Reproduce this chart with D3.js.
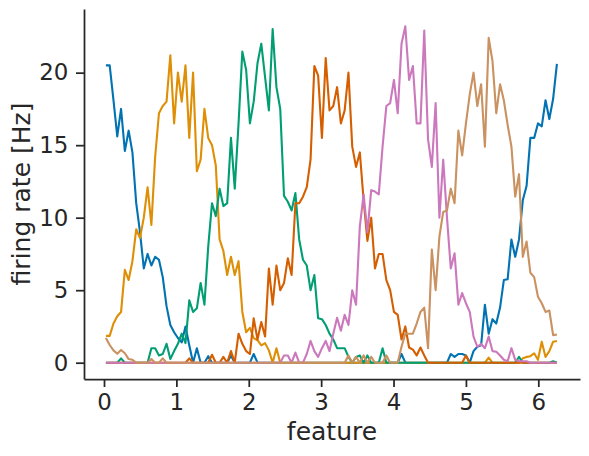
<!DOCTYPE html>
<html>
<head>
<meta charset="utf-8">
<script src="https://cdn.jsdelivr.net/npm/d3@7"></script>
<style>
  body { margin: 0; background: #fff; }
  text { font-family: "DejaVu Sans", sans-serif; fill: #262626; }
</style>
</head>
<body>
<script>
// tuning curves of 6 neurons, 120 feature bins over [0, 2pi]
var nBins = 120;
var colors = ["#0173b2", "#de8f05", "#029e73", "#d55e00", "#cc78bc", "#ca9161"];
var xTicks = [0, 1, 2, 3, 4, 5, 6],
    yTicks = [0, 5, 10, 15, 20];

var neuron0 = [
  20.5, 20.5, 18.1, 15.6, 17.5, 14.6, 16.0, 14.5, 11.0, 9.0,
  6.5, 7.5, 6.7, 7.3, 7.1, 5.9, 3.9, 2.6, 2.1, 1.7,
  1.4, 2.5, 1.2, 0, 1.0, 0, 0, 0.45, 0, 0,
  0, 0, 0, 0.5, 0, 0, 0, 0, 0, 0.6,
  0, 0, 0, 0, 0, 0, 0, 0, 0, 0,
  0, 0, 0, 0, 0, 0, 0, 0, 0, 0,
  0, 0, 0, 0, 0, 0, 0, 0, 0, 0,
  0, 0, 0, 0, 0, 0, 0, 0, 0.6, 0,
  0, 0, 0, 0, 0, 0, 0, 0, 0, 0,
  0, 0.6, 0.4, 0.6, 0.6, 0.5, 0, 0.8, 1.1, 1.2,
  4.0, 2.0, 3.0, 2.7, 3.8, 5.7, 5.75, 8.5, 7.3, 8.5,
  11.2, 12.2, 15.5, 15.5, 16.5, 16.3, 18.1, 16.8, 18.2, 20.6
];
var neuron1 = [
  1.85, 1.85, 2.7, 3.2, 3.5, 6.4, 5.7, 7.0, 9.2, 8.6,
  10.0, 12.1, 9.5, 14.2, 17.2, 17.7, 18.0, 21.2, 16.5, 20.0,
  18.0, 20.5, 15.5, 20.0, 13.2, 14.0, 17.5, 15.5, 15.0, 13.6,
  8.5, 7.7, 6.05, 7.3, 6.05, 7.0, 3.5, 2.1, 2.4, 1.7,
  1.55, 1.2, 1.35, 0.85, 0, 1.0, 0, 0, 0, 0,
  0, 0, 0, 0, 0, 0, 0, 0, 0, 0,
  0, 0, 0, 0, 0, 0, 0, 0, 0, 0,
  0, 0, 0, 0, 0, 0, 0, 0, 0, 0,
  0, 0, 0, 0, 0, 0, 0, 0, 0, 0,
  0, 0, 0, 0, 0, 0, 0, 0, 0, 0,
  0, 0.35, 0, 0, 0, 0, 0, 0, 0, 0,
  0.3, 0.4, 0.45, 0.65, 0.2, 1.45, 0.4, 0.8, 1.45, 1.5
];
var neuron2 = [
  0, 0, 0, 0, 0.3, 0, 0, 0, 0, 0,
  0, 0, 1.0, 1.0, 0.5, 0.6, 1.3, 0.25, 0.8, 1.3,
  2.0, 1.35, 4.3, 3.5, 3.75, 5.5, 4.0, 8.0, 11.0, 10.1,
  12.0, 10.8, 11.0, 15.5, 12.0, 16.5, 21.45, 20.2, 16.5, 18.0,
  20.65, 22.0, 19.7, 17.4, 23.0, 19.0, 17.5, 11.5, 11.1, 10.5,
  11.7, 8.5, 7.1, 6.7, 5.0, 6.05, 3.06, 3.0, 2.6, 2.0,
  1.6, 1.0, 1.0, 1.0, 0.4, 0, 0.4, 0.5, 0, 0.5,
  0, 0, 0, 1.0, 0, 0, 0, 0, 0, 0,
  0, 0, 0, 0, 0, 0, 0, 0, 0, 0,
  0, 0, 0, 0, 0, 0, 0, 0, 0, 0,
  0, 0, 0, 0, 0, 0, 0, 0, 0, 0.4,
  0, 0, 0, 0, 0, 0, 0, 0, 0.1, 0
];
var neuron3 = [
  0, 0, 0, 0, 0, 0, 0, 0, 0, 0,
  0, 0, 0, 0, 0, 0, 0, 0, 0, 0,
  0, 0, 0.3, 0, 0, 0, 0, 0, 0.55, 0,
  0, 0.4, 0, 0.8, 0, 2.0, 1.3, 0.8, 0.6, 3.06,
  1.6, 2.8, 1.8, 6.5, 4.0, 6.7, 5.0, 5.5, 7.2, 6.05,
  11.0, 11.0, 11.45, 12.1, 14.0, 20.46, 19.8, 15.5, 21.0, 17.4,
  17.7, 19.0, 16.5, 17.4, 20.0, 14.9, 13.5, 14.5, 11.2, 8.4,
  10.0, 6.5, 7.5, 7.5, 5.7, 5.0, 3.5, 3.3, 1.6, 2.5,
  1.05, 0.9, 0.5, 1.05, 0.5, 0, 0, 0, 0, 0,
  0, 0, 0, 0, 0, 0.5, 0, 0, 0, 0,
  0, 0, 0, 0, 0, 0, 0, 0, 0, 0,
  0, 0, 0, 0, 0, 0, 0, 0, 0, 0
];
var neuron4 = [
  0, 0, 0, 0, 0, 0, 0, 0, 0, 0,
  0, 0, 0, 0, 0, 0, 0, 0, 0, 0,
  0, 0, 0, 0, 0, 0, 0, 0, 0, 0,
  0, 0, 0, 0, 0, 0, 0, 0, 0, 0,
  0, 0, 0, 0, 0, 0, 0, 0.5, 0.5, 0,
  0.7, 0, 0, 0.6, 1.5, 0.8, 0.4, 1.0, 1.5, 0.8,
  2.0, 3.1, 2.2, 3.3, 2.6, 5.0, 4.0, 9.4, 11.6, 9.0,
  11.9, 11.8, 11.6, 14.9, 17.7, 17.9, 19.5, 17.2, 22.0, 23.2,
  19.5, 20.46, 16.5, 16.5, 22.9, 15.4, 13.5, 17.9, 10.0, 14.0,
  10.0, 6.5, 7.55, 4.0, 4.8, 4.1, 3.5, 1.8, 1.1, 1.3,
  1.0, 1.8, 0.8, 0.76, 0.5, 0.2, 0.1, 1.0, 0.2, 0.1,
  0.1, 0.1, 0, 0, 0, 0, 0, 0, 0, 0
];
var neuron5 = [
  1.7, 1.22, 0.85, 0.62, 0.88, 0.65, 0.25, 0.2, 0, 0,
  0, 0, 0.25, 0, 0, 0.3, 0, 0, 0, 0,
  0, 0, 0, 0, 0, 0, 0, 0, 0, 0,
  0, 0, 0, 0, 0, 0, 0, 0, 0, 0,
  0, 0, 0, 0, 0, 0, 0, 0, 0, 0,
  0, 0, 0, 0, 0, 0, 0, 0, 0, 0,
  0, 0, 0, 0, 0.5, 0, 0.4, 0, 0.5, 0,
  0.4, 0, 0, 0, 0.5, 0, 0, 0, 1.1, 2.0,
  2.0, 2.0, 2.7, 3.5, 3.8, 1.0, 7.8, 5.0, 8.7, 10.4,
  10.5, 12.0, 11.0, 16.0, 14.3, 16.5, 18.5, 20.0, 17.7, 19.2,
  14.9, 22.4, 20.8, 17.2, 19.2, 18.1, 16.4, 14.9, 11.45, 13.0,
  7.3, 8.35, 6.2, 5.9, 4.55, 4.1, 3.5, 3.6, 1.9, 1.95
];

var rates = [neuron0, neuron1, neuron2, neuron3, neuron4, neuron5];
rates.forEach(function(r, k) {
  if (r.length != nBins) console.error("neuron" + k + " has " + r.length + " values");
});

// bin centres of the feature axis
var feature = d3.range(nBins).map(function(i) { return (i + 0.5) * 2 * Math.PI / nBins; });

var width = 589, height = 456;
var plot = {left: 84, right: 580, top: 9, bottom: 379};

var x = d3.scaleLinear().domain([-0.2763, 6.576]).range([plot.left, plot.right]);
var y = d3.scaleLinear().domain([-1.124, 24.39]).range([plot.bottom, plot.top]);

var svg = d3.select("body").append("svg")
  .attr("width", width)
  .attr("height", height);

var line = d3.line()
  .x(function(d, i) { return x(feature[i]); })
  .y(function(d) { return y(d); });

svg.append("g")
  .selectAll("path")
  .data(rates)
  .enter()
  .append("path")
  .attr("d", line)
  .attr("fill", "none")
  .attr("stroke", function(d, i) { return colors[i]; })
  .attr("stroke-width", 2.1)
  .attr("stroke-linejoin", "round");

var fontSize = "22.9px";

var gx = svg.append("g")
  .attr("transform", "translate(0," + plot.bottom + ")")
  .call(d3.axisBottom(x).tickValues(xTicks).tickFormat(d3.format("d"))
    .tickSize(8).tickPadding(6.3).tickSizeOuter(0));

var gy = svg.append("g")
  .attr("transform", "translate(" + plot.left + ",0)")
  .call(d3.axisLeft(y).tickValues(yTicks).tickFormat(d3.format("d"))
    .tickSize(8).tickPadding(7.7).tickSizeOuter(0));

[gx, gy].forEach(function(g) {
  g.select(".domain").attr("stroke", "#262626").attr("stroke-width", 1.75);
  g.selectAll(".tick line").attr("stroke", "#262626").attr("stroke-width", 1.75);
  g.selectAll(".tick text")
    .attr("fill", "#262626")
    .style("font-family", "'DejaVu Sans', sans-serif")
    .style("font-size", fontSize);
});

svg.append("text")
  .attr("x", (plot.left + plot.right) / 2)
  .attr("y", 440)
  .attr("text-anchor", "middle")
  .style("font-size", "25px")
  .text("feature");

svg.append("text")
  .attr("transform", "translate(30," + (plot.top + plot.bottom) / 2 + ") rotate(-90)")
  .attr("text-anchor", "middle")
  .style("font-size", "25px")
  .text("firing rate [Hz]");
</script>
</body>
</html>
